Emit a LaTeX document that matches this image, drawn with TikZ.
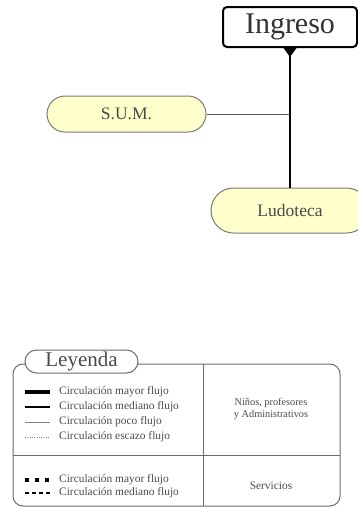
\documentclass[tikz,border=0pt]{standalone}
\usepackage{fontspec}
\setmainfont{Liberation Serif}
\definecolor{roomfill}{HTML}{FFFFCC}
\definecolor{roomline}{HTML}{7A7A7A}
\definecolor{roomtext}{HTML}{4A4A4A}
\definecolor{legline}{HTML}{6A6A6A}
\definecolor{legtext}{HTML}{4A4A4A}
\begin{document}
\begin{tikzpicture}[x=1pt,y=-1pt,
  room/.style={draw=roomline, line width=1pt, fill=roomfill, text=roomtext,
    font=\fontsize{17.5}{20}\selectfont, inner sep=0pt},
  legbox/.style={draw=legline, line width=1pt},
  legitem/.style={anchor=west, text=legtext, font=\fontsize{11.4}{13}\selectfont, inner sep=0pt},
  lthick/.style={line width=3.5pt},
  lmed/.style={line width=1.8pt},
  lthin/.style={line width=1pt, draw=gray},
  ldot/.style={line width=0.7pt, draw=gray, dash pattern=on 1pt off 1.3pt},
  ldashthick/.style={line width=3.5pt, dash pattern=on 4pt off 6pt},
  ldashmed/.style={line width=1.8pt, dash pattern=on 4pt off 3pt}]
\useasboundingbox (0,0) rectangle (358,507);

% rooms
\node[draw, line width=2pt, rounded corners=4pt, fill=white,
  minimum width=134pt, minimum height=40pt, inner sep=0pt, text=black!80,
  font=\fontsize{30}{34}\selectfont] (ing) at (290,27) {Ingreso};
\node[room, minimum width=159pt, minimum height=36pt, rounded corners=18pt] (sum) at (126.5,114) {S.U.M.};
\node[room, minimum width=158pt, minimum height=45pt, rounded corners=22.5pt] (ludo) at (290,210.5) {Ludoteca};

% connectors
\draw[line width=1.5pt] (ing.south) -- (ludo.north);
\fill (ing.south) ++(-6.5,0) -- ++(13,0) -- ++(-6.5,9) -- cycle;
\draw[line width=1pt, draw=gray!70!black] (sum.east) -- (sum.east -| ing.south);

% legend frame
\draw[legbox, rounded corners=10pt] (13,364) rectangle (340,506);
\draw[legbox] (203,364) -- (203,506);
\draw[legbox] (13,455) -- (340,455);
\node[legbox, fill=white, rounded corners=11.5pt, minimum width=113pt, minimum height=23pt,
  inner sep=0pt, text=legtext, font=\fontsize{21}{24}\selectfont] (ley) at (81.5,361.5) {Leyenda};

% legend items
\draw[lthick] (25,392) -- (50,392);
\node[legitem] (t1) at (59,392) {Circulación mayor flujo};
\draw[lmed] (25,407) -- (50,407);
\node[legitem] (t2) at (59,407) {Circulación mediano flujo};
\draw[lthin] (25,422) -- (50,422);
\node[legitem] (t3) at (59,422) {Circulación poco flujo};
\draw[ldot] (25,437) -- (49,437);
\node[legitem] (t4) at (59,437) {Circulación escazo flujo};
\draw[ldashthick] (25,480) -- (50,480);
\node[legitem] (t5) at (59,480) {Circulación mayor flujo};
\draw[ldashmed] (25,493) -- (50,493);
\node[legitem] (t6) at (59,493) {Circulación mediano flujo};

\node[align=center, text=legtext, font=\fontsize{10.3}{12}\selectfont] (grp1) at (271,409)
  {Niños, profesores\\y Administrativos};
\node[text=legtext, font=\fontsize{11.4}{13}\selectfont] (grp2) at (271,486) {Servicios};
\end{tikzpicture}
\end{document}
